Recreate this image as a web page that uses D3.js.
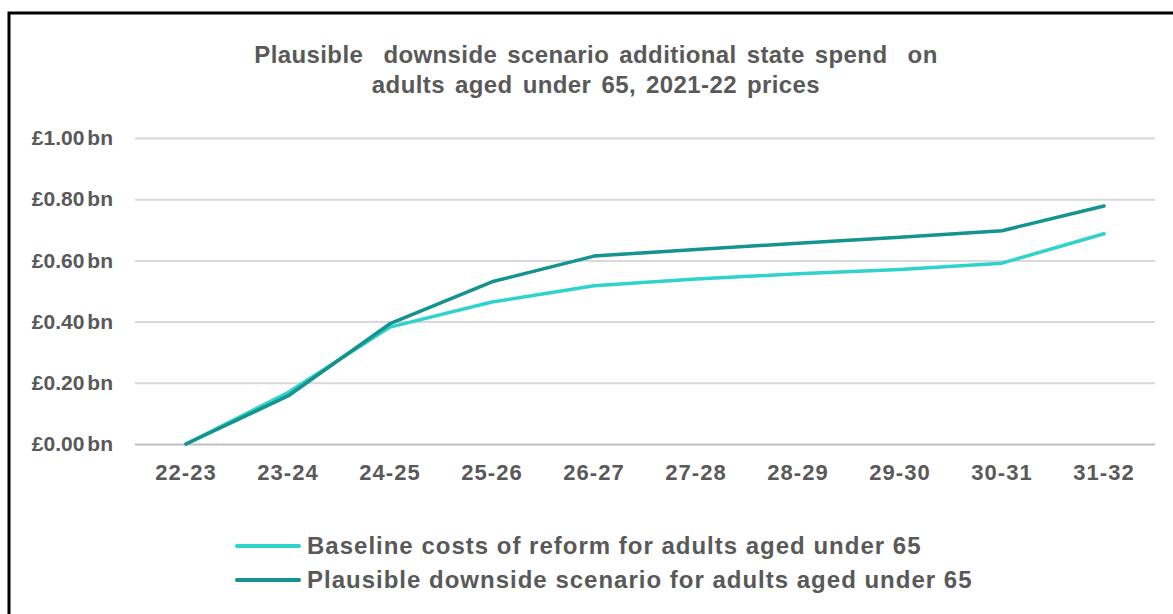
<!DOCTYPE html>
<html><head><meta charset="utf-8">
<script src="https://cdn.jsdelivr.net/npm/d3@7"></script>
<style>body{margin:0;background:#fff}svg{display:block;font-family:"Liberation Sans",Arial,sans-serif}</style>
</head><body>
<svg id="c" width="1173" height="614"></svg>
<script>
const categories = ["22-23","23-24","24-25","25-26","26-27","27-28","28-29","29-30","30-31","31-32"];
const baseline = [0, 0.168, 0.382, 0.464, 0.517, 0.539, 0.556, 0.570, 0.591, 0.687];
const downside = [0, 0.157, 0.393, 0.530, 0.614, 0.636, 0.656, 0.676, 0.697, 0.778];
const yTicks = [0, 0.2, 0.4, 0.6, 0.8, 1.0];
const seriesNames = ["Baseline costs of reform for adults aged under 65", "Plausible downside scenario for adults aged under 65"];
const colors = ["#2FD3CB", "#14938F"];
const titleLines = ["Plausible  downside scenario additional state spend  on", "adults aged under 65, 2021-22 prices"];

const FONT = "\"Liberation Sans\",Arial,sans-serif";
const svg = d3.select("#c");
svg.append("rect").attr("x",9).attr("y",13).attr("width",1200).attr("height",700)
  .attr("fill","#fff").attr("stroke","#000").attr("stroke-width",3);

const x = d3.scaleBand().domain(categories).range([135,1155]);
const y = d3.scaleLinear().domain([0,1]).range([444,138]);

svg.append("g").selectAll("text").data(titleLines).join("text")
  .attr("x",596).attr("y",(d,i)=>63+i*30).attr("text-anchor","middle")
  .attr("font-size",24).attr("font-weight","bold").attr("fill","#595959")
  .attr("letter-spacing",0.4).attr("word-spacing",3)
  .style("white-space","pre").text(d=>d);

// grid + y axis
const yAxis = d3.axisLeft(y).tickValues(yTicks).tickSize(-(1155-135)).tickPadding(22)
  .tickFormat(d=>"£"+d3.format(".2f")(d));
const gy = svg.append("g").attr("transform","translate(135,0)").call(yAxis);
gy.select(".domain").remove();
gy.selectAll(".tick line").attr("stroke",d=>d===0?"#BFBFBF":"#D9D9D9").attr("stroke-width",2);
gy.selectAll(".tick text").attr("font-size",21).attr("font-weight","bold").attr("fill","#595959")
  .attr("font-family",FONT).attr("x",-22)
  .append("tspan").attr("dx",3).text("bn");

const xAxis = d3.axisBottom(x).tickSize(0).tickPadding(20);
const gx = svg.append("g").attr("transform","translate(0,444)").call(xAxis);
gx.select(".domain").remove();
gx.selectAll(".tick text").attr("font-size",22).attr("font-weight","bold").attr("fill","#595959")
  .attr("font-family",FONT).attr("letter-spacing",1);

const line = d3.line().x((d,i)=>x(categories[i])+x.bandwidth()/2).y(d=>y(d));
[baseline, downside].forEach((s,i)=>{
  svg.append("path").datum(s).attr("d",line).attr("fill","none")
    .attr("stroke",colors[i]).attr("stroke-width",3.5).attr("stroke-linejoin","round").attr("stroke-linecap","round");
});

const lg = svg.append("g");
seriesNames.forEach((n,i)=>{
  const yy = 546 + i*34;
  lg.append("line").attr("x1",237).attr("x2",299).attr("y1",yy).attr("y2",yy)
    .attr("stroke",colors[i]).attr("stroke-width",4).attr("stroke-linecap","round");
  lg.append("text").attr("x",307).attr("y",yy+8).attr("font-size",24).attr("font-weight","bold")
    .attr("letter-spacing",1.0).attr("fill","#595959").text(n);
});
</script>
</body></html>
